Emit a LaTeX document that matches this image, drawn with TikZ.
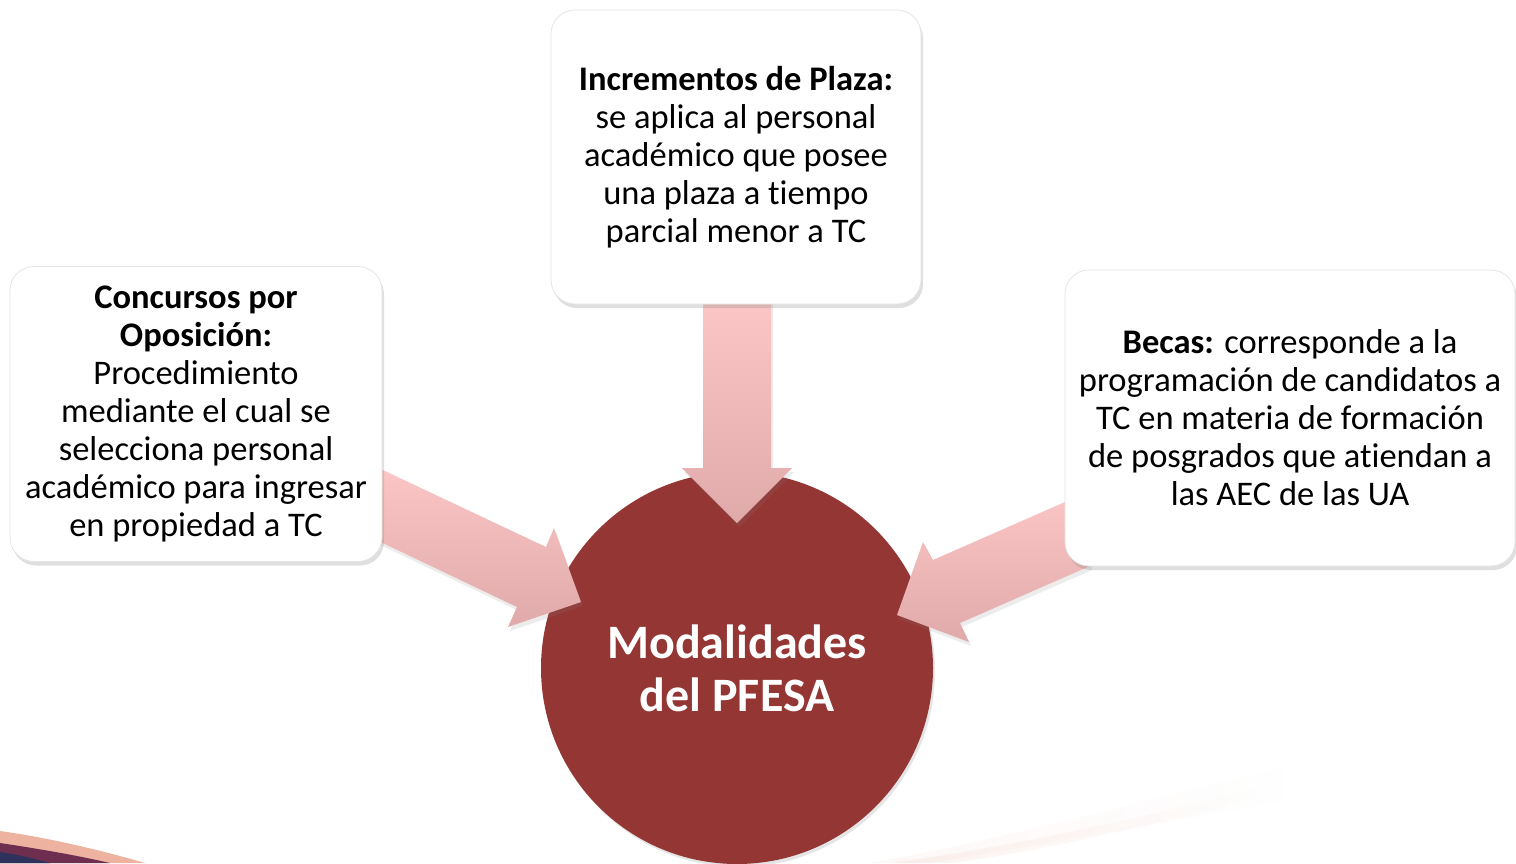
\documentclass[tikz,border=0pt]{standalone}
\usepackage{fontspec}
\setmainfont{Carlito}[Ligatures=NoCommon]
\usetikzlibrary{shadows,shadings,fadings}
\definecolor{circred}{RGB}{148,54,52}
\definecolor{arrtop}{RGB}{252,198,198}
\definecolor{arrbot}{RGB}{224,170,170}
\definecolor{peach}{RGB}{238,178,160}
\definecolor{plum}{RGB}{110,46,80}
\definecolor{navy}{RGB}{44,50,92}
\tikzfading[name=streakfade, left color=transparent!40, middle color=transparent!0, right color=transparent!100]
\tikzset{
  infobox/.style={fill=white, draw=black!10, line width=0.8pt, rounded corners=24pt, align=center, inner sep=0pt,
    font=\fontsize{34.5}{38}\selectfont,
    drop shadow={shadow xshift=2pt, shadow yshift=-4pt, opacity=0.25, fill=gray}},
  bigarrow/.style={top color=arrtop, bottom color=arrbot, draw=none,
    drop shadow={shadow xshift=2pt, shadow yshift=-4pt, opacity=0.15, fill=gray}},
  hub/.style={circle, fill=circred, text=white, align=center, minimum size=392pt,
    inner sep=0pt, font=\bfseries\fontsize{48}{53}\selectfont,
    drop shadow={shadow xshift=2pt, shadow yshift=-3pt, opacity=0.2, fill=gray}}
}
\begin{document}
\begin{tikzpicture}[x=1pt,y=-1pt]
\path[fill=white] (0,0) rectangle (1516,863);
\useasboundingbox (0,0) rectangle (1516,863);
% background swooshes
\fill[peach] (0,831) .. controls (50,838) and (100,850) .. (145,863) -- (0,863) -- cycle;
\fill[plum] (0,843) .. controls (40,849) and (75,855) .. (110,863) -- (0,863) -- cycle;
\fill[navy] (0,852) .. controls (20,855) and (35,859) .. (50,863) -- (0,863) -- cycle;
\fill[peach, opacity=0.14, path fading=streakfade] (870,863) .. controls (1000,840) and (1150,800) .. (1290,765)
  -- (1290,800) .. controls (1150,825) and (1000,852) .. (930,863) -- cycle;
\fill[peach, opacity=0.25, path fading=streakfade] (890,863) .. controls (1020,846) and (1150,815) .. (1260,788)
  -- (1250,800) .. controls (1140,828) and (1030,853) .. (950,863) -- cycle;
% hub
\node[hub] (hub) at (737,668) {Modalidades\\del PFESA};
% arrows
\path[bigarrow] (703,300) -- (771,300) -- (771,468) -- (792,468) -- (737,523) -- (682,468) -- (703,468) -- cycle;
\path[bigarrow] (370,464) -- (546,547) -- (554,528) -- (581,602) -- (508,627) -- (517,607) -- (370,537) -- cycle;
\path[bigarrow] (1090,491) -- (933,560) -- (923,542) -- (897,615) -- (969,642) -- (960,623) -- (1090,566) -- cycle;
% boxes
\node[infobox, minimum width=370pt, minimum height=294pt] (top) at (736,157)
  {\textbf{Incrementos de Plaza:}\\se aplica al personal\\académico que posee\\una plaza a tiempo\\parcial menor a TC};
\node[infobox, minimum width=372pt, minimum height=295pt] (left) at (196,414)
  {\textbf{Concursos por}\\\textbf{Oposición:}\\Procedimiento\\mediante el cual se\\selecciona personal\\académico para ingresar\\en propiedad a TC};
\node[infobox, minimum width=450pt, minimum height=296pt] (right) at (1290,418)
  {\textbf{Becas:} corresponde a la\\programación de candidatos a\\TC en materia de formación\\de posgrados que atiendan a\\las AEC de las UA};
\end{tikzpicture}
\end{document}
